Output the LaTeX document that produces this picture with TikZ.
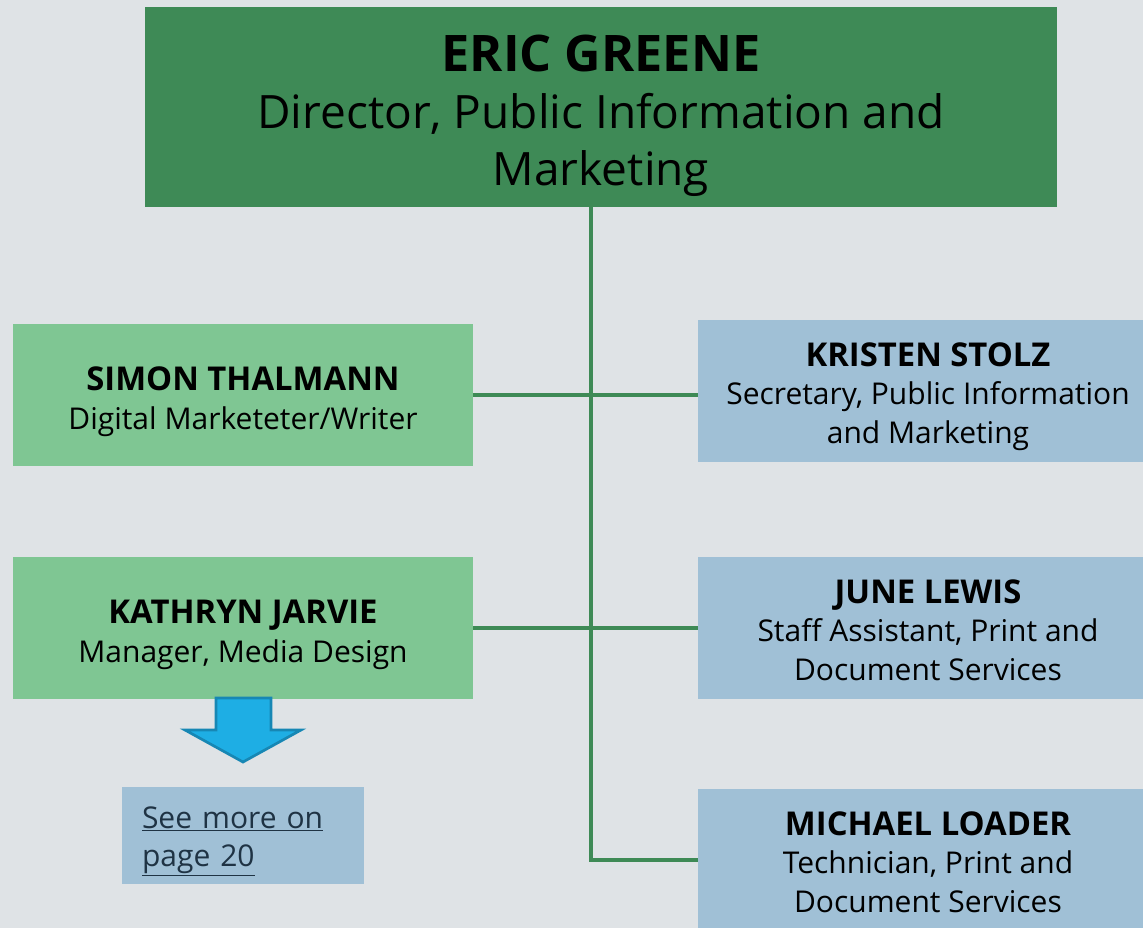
\documentclass[tikz,border=0pt]{standalone}
\usepackage{fontspec}
\setmainfont{Open Sans}
\usepackage{tikz}
\definecolor{pagebg}{HTML}{DFE3E6}
\definecolor{darkgreen}{HTML}{3E8A56}
\definecolor{lightgreen}{HTML}{7FC693}
\definecolor{lightblue}{HTML}{A0C0D6}
\definecolor{arrowblue}{HTML}{1EAEE4}
\definecolor{arrowedge}{HTML}{1787B4}
\definecolor{linktext}{HTML}{1F3344}
\tikzstyle{box}=[rectangle, inner sep=0pt, align=center, text=black, text depth=0pt]
\tikzstyle{headbox}=[box, fill=darkgreen, minimum width=684pt, minimum height=150pt,
  text height=117pt, font=\fontsize{34.5}{42.75}\selectfont]
\tikzstyle{staffbox}=[box, minimum width=345pt, minimum height=106.5pt,
  text height=78.75pt, font=\fontsize{22.5}{29}\selectfont]
\tikzstyle{gbox}=[staffbox, fill=lightgreen, text height=51.75pt]
\tikzstyle{bbox}=[staffbox, fill=lightblue]
\tikzstyle{conn}=[draw=darkgreen, line width=3pt]
\newcommand{\who}[1]{{\fontsize{24.6}{29}\selectfont\bfseries #1}}

\begin{document}
\begin{tikzpicture}[x=0.75pt, y=-0.75pt]
        \fill[pagebg] (0,0) rectangle (1143,928);
        \useasboundingbox (0,0) rectangle (1143,928);
        \clip (0,0) rectangle (1143,928);
        % boxes
        \node[headbox] (eric) at (601,107) {{\fontsize{37.8}{42.75}\selectfont\bfseries ERIC GREENE}\\Director, Public Information and\\Marketing};
        \node[gbox] (simon) at (243,395) {\who{SIMON THALMANN}\\Digital Marketeter/Writer};
        \node[gbox] (kathryn) at (243,628) {\who{KATHRYN JARVIE}\\Manager, Media Design};
        \node[bbox] (kristen) at (928,391) {\who{KRISTEN STOLZ}\\Secretary, Public Information\\and Marketing};
        \node[bbox] (june) at (928,628) {\who{JUNE LEWIS}\\Staff Assistant, Print and\\Document Services};
        \node[bbox] (michael) at (928,860) {\who{MICHAEL LOADER}\\Technician, Print and\\Document Services};
        \node[box, fill=lightblue, inner xsep=15pt, text width=151.5pt, minimum height=72.75pt,
          text height=0pt, text depth=11.25pt, align=left, text=linktext, font=\fontsize{22.5}{29}\selectfont]
          (more) at (243,835.5) {\underline{See more on}\\\underline{page 20}};
        % connectors
        \coordinate (trunk) at (591,860);
        \draw[conn] (eric.south -| trunk) -- (trunk) -- (michael.west |- trunk);
        \draw[conn] (simon.east) -- (simon.east -| kristen.west);
        \draw[conn] (kathryn.east) -- (june.west);
        % arrow down to the page note
        \draw[fill=arrowblue, draw=arrowedge, line width=2pt, line join=miter]
          (216,698) -- (271,698) -- (271,730) -- (301,730) -- (243,762)
          -- (185,730) -- (216,730) -- cycle;
    \end{tikzpicture}
\end{document}
